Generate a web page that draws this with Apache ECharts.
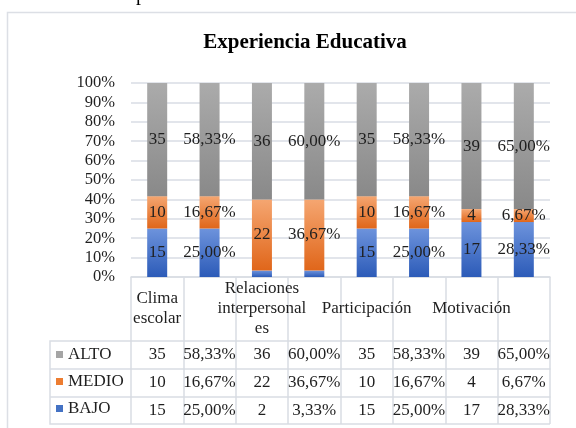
<!DOCTYPE html>
<html>
<head>
<meta charset="utf-8">
<script src="https://cdn.jsdelivr.net/npm/echarts@6/dist/echarts.min.js"></script>
<style>
  html, body { margin: 0; padding: 0; background: #fff; }
  #chart { width: 576px; height: 428px; }
</style>
</head>
<body>
<div id="chart"></div>
<script>
// datos
const categories = ['Clima escolar', 'Relaciones interpersonales', 'Participación', 'Motivación']
const headerLabels = ['Clima\nescolar', 'Relaciones\ninterpersonal\nes', 'Participación', 'Motivación']
const columnKinds = ['n', '%', 'n', '%', 'n', '%', 'n', '%']
const levels = ['ALTO', 'MEDIO', 'BAJO']
const alto = [35, 58.33, 36, 60.0, 35, 58.33, 39, 65.0]
const medio = [10, 16.67, 22, 36.67, 10, 16.67, 4, 6.67]
const bajo = [15, 25.0, 2, 3.33, 15, 25.0, 17, 28.33]

// estilo
const serif = 'Liberation Serif'
const textColor = '#1f1f1f'
const lineColor = '#d9dde4'
const fontSize = 17
const colors = {
  ALTO: ['#ababab', '#898989', '#a5a5a5'],
  MEDIO: ['#f5a671', '#e0661a', '#ed7d31'],
  BAJO: ['#6d93dc', '#2c5bb8', '#4472c4']
}

// disposicion (px)
const gridLeft = 131
const gridRight = 26
const gridTop = 83
const gridBottom = 151
const plotBottomY = 428 - gridBottom
const rowOffsets = [64, 92, 120]
const rowHeights = [28, 28, 27]
const tableLeft = 50

const columnIds = []
categories.forEach(c => columnIds.push(c + ' (n)', c + ' (%)'))
const totals = alto.map((v, i) => v + medio[i] + bajo[i])
const values = { ALTO: alto, MEDIO: medio, BAJO: bajo }

function fmt(v, i) {
  return columnKinds[i] === '%' ? v.toFixed(2).replace('.', ',') + '%' : String(v)
}

function grad(name) {
  return new echarts.graphic.LinearGradient(0, 0, 0, 1, [
    { offset: 0, color: colors[name][0] },
    { offset: 1, color: colors[name][1] }
  ])
}

const lineStyle = { color: lineColor, width: 1.5 }

function tableAxis(offset, height, formatter) {
  return {
    type: 'category',
    gridIndex: 0,
    position: 'bottom',
    offset: offset,
    data: columnIds,
    axisLine: { show: true, lineStyle: lineStyle },
    axisTick: { show: true, length: height, interval: 0, lineStyle: lineStyle },
    axisLabel: {
      interval: 0,
      margin: height / 2,
      verticalAlign: 'middle',
      fontFamily: serif,
      fontSize: fontSize,
      lineHeight: 20,
      color: textColor,
      formatter: formatter
    },
    splitLine: { show: false }
  }
}

const series = ['BAJO', 'MEDIO', 'ALTO'].map(name => ({
  name: name,
  type: 'bar',
  stack: 'total',
  barWidth: 20,
  itemStyle: { color: grad(name) },
  label: {
    show: true,
    position: 'inside',
    fontFamily: serif,
    fontSize: fontSize,
    color: textColor,
    formatter: p => fmt(values[name][p.dataIndex], p.dataIndex)
  },
  data: values[name].map((v, i) => {
    const share = v / totals[i] * 100
    return { value: share, label: { show: share >= 5 } }
  })
}))

const option = {
  animation: false,
  title: {
    text: 'Experiencia Educativa',
    left: 305,
    textAlign: 'center',
    top: 32,
    padding: 0,
    textStyle: { fontFamily: serif, fontSize: 21, fontWeight: 'bold', color: '#000' }
  },
  legend: {
    orient: 'vertical',
    left: 56,
    top: 346,
    padding: 0,
    itemGap: 10,
    itemWidth: 7,
    itemHeight: 7,
    icon: 'rect',
    selectedMode: false,
    data: levels.map(l => ({ name: l, itemStyle: { color: colors[l][2] } })),
    textStyle: { fontFamily: serif, fontSize: fontSize, lineHeight: 17, color: textColor }
  },
  grid: {
    left: gridLeft,
    right: gridRight,
    top: gridTop,
    bottom: gridBottom,
    containLabel: false,
    outerBoundsMode: 'none'
  },
  xAxis: [
    tableAxis(0, 64, (v, i) => (i % 2 === 0 ? headerLabels[i / 2] : '')),
    tableAxis(rowOffsets[0], rowHeights[0], (v, i) => fmt(alto[i], i)),
    tableAxis(rowOffsets[1], rowHeights[1], (v, i) => fmt(medio[i], i)),
    tableAxis(rowOffsets[2], rowHeights[2], (v, i) => fmt(bajo[i], i))
  ],
  yAxis: {
    type: 'value',
    min: 0,
    max: 100,
    interval: 10,
    axisLine: { show: false },
    axisTick: { show: false },
    axisLabel: {
      margin: 16,
      fontFamily: serif,
      fontSize: 16.5,
      color: textColor,
      formatter: '{value}%'
    },
    splitLine: { show: true, lineStyle: lineStyle }
  },
  series: series,
  graphic: [
    {
      type: 'rect',
      shape: { x: 7.5, y: 12.5, width: 700, height: 500 },
      style: { fill: 'none', stroke: '#dcdfe5', lineWidth: 1.5 },
      silent: true
    },
    {
      type: 'text',
      x: 136,
      y: 5,
      style: { text: 'p', fontFamily: serif, fontSize: 20, fill: '#000', verticalAlign: 'bottom' },
      silent: true
    },
    {
      // bordes de la columna de la leyenda y linea inferior de la tabla
      type: 'polyline',
      shape: {
        points: [
          [gridLeft, plotBottomY + rowOffsets[0]],
          [tableLeft, plotBottomY + rowOffsets[0]],
          [tableLeft, plotBottomY + rowOffsets[2] + rowHeights[2]],
          [576 - gridRight, plotBottomY + rowOffsets[2] + rowHeights[2]]
        ]
      },
      style: { fill: 'none', stroke: lineColor, lineWidth: 1.5 },
      silent: true
    },
    {
      type: 'line',
      shape: { x1: tableLeft, y1: plotBottomY + rowOffsets[1], x2: gridLeft, y2: plotBottomY + rowOffsets[1] },
      style: { stroke: lineColor, lineWidth: 1.5 },
      silent: true
    },
    {
      type: 'line',
      shape: { x1: tableLeft, y1: plotBottomY + rowOffsets[2], x2: gridLeft, y2: plotBottomY + rowOffsets[2] },
      style: { stroke: lineColor, lineWidth: 1.5 },
      silent: true
    }
  ]
}

const chart = echarts.init(document.getElementById('chart'))
chart.setOption(option)
</script>
</body>
</html>
